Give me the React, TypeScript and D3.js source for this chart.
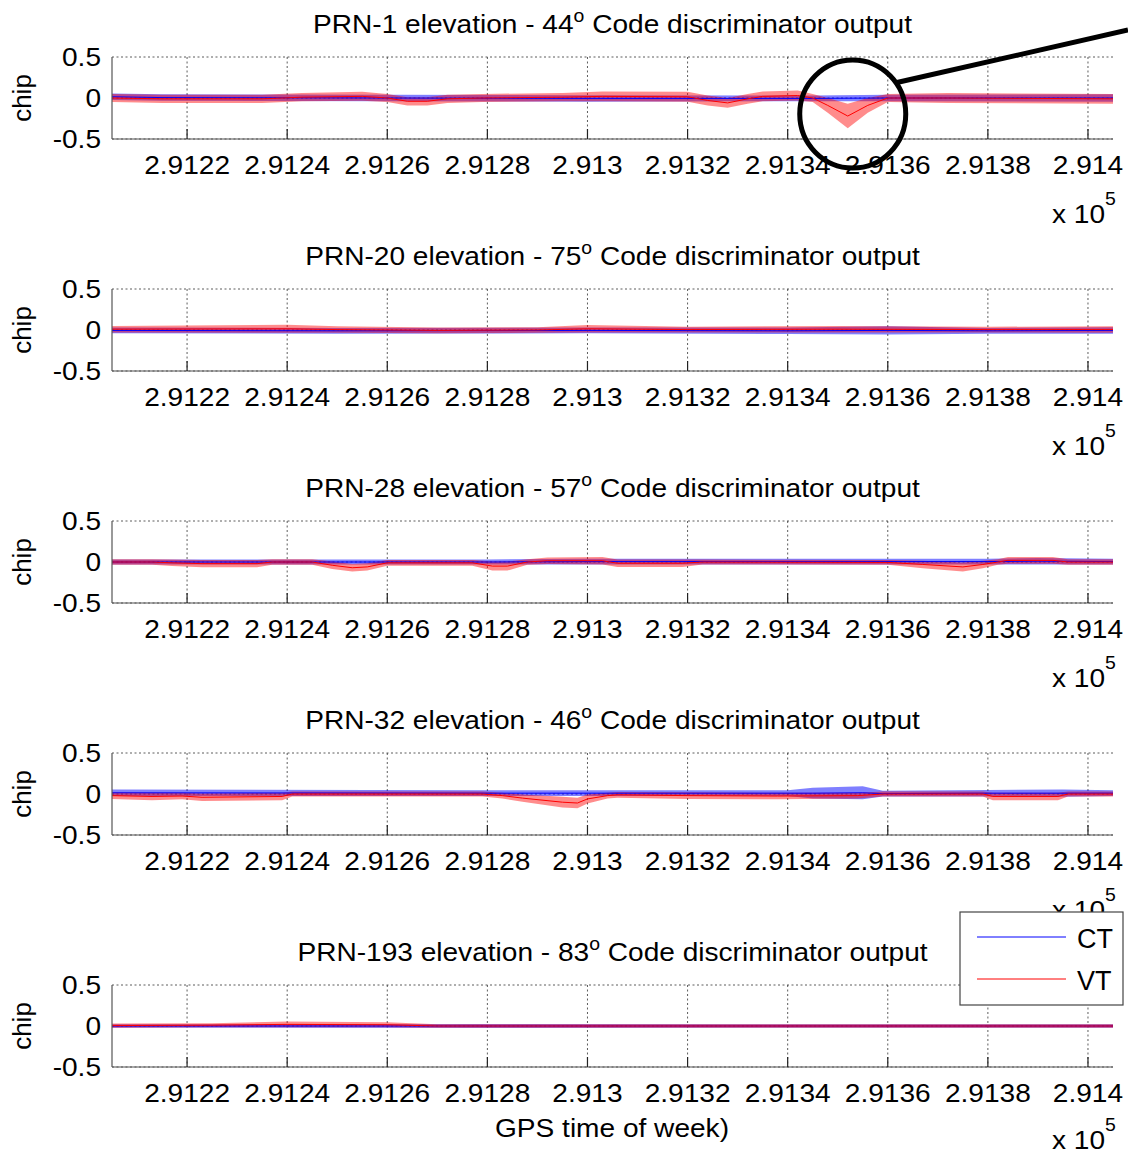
import React from "react";
import * as d3 from "d3";

// panel titles
const prnLabels = ["PRN-1", "PRN-20", "PRN-28", "PRN-32", "PRN-193"];
const elevations = [44, 75, 57, 46, 83];
const seriesNames = ["CT", "VT"];
const seriesColors = ["#0000ff", "#ff0000"];
const xTicks = [291220, 291240, 291260, 291280, 291300, 291320, 291340, 291360, 291380, 291400];
const yTicks = [-0.5, 0, 0.5];

// [GPS time of week (s), mean output (chip), half-spread of the noise (chip)]
type Pt = [number, number, number];

const prn1CT: Pt[] = [
  [291205, 0.015, 0.04], [291215, 0.005, 0.04], [291260, 0.0, 0.04], [291300, -0.005, 0.04],
  [291345, -0.005, 0.035], [291360, 0.0, 0.04], [291405, 0.0, 0.045],
];
const prn1VT: Pt[] = [
  [291205, 0.0, 0.05], [291215, -0.01, 0.05], [291235, -0.01, 0.05], [291243, 0.01, 0.05],
  [291255, 0.02, 0.055], [291260, 0.0, 0.05], [291264, -0.04, 0.05], [291268, -0.04, 0.05],
  [291272, -0.01, 0.05], [291279, 0.0, 0.05], [291295, 0.01, 0.05], [291303, 0.02, 0.06],
  [291320, 0.015, 0.06], [291324, -0.03, 0.06], [291328, -0.06, 0.06], [291332, -0.01, 0.06],
  [291335, 0.02, 0.06], [291342, 0.03, 0.06], [291345, 0.0, 0.05], [291348, -0.09, 0.09],
  [291352, -0.22, 0.15], [291356, -0.09, 0.09], [291360, 0.0, 0.05], [291372, 0.0, 0.06],
  [291405, -0.01, 0.06],
];

const prn20CT: Pt[] = [
  [291205, -0.005, 0.035], [291250, -0.01, 0.035], [291300, -0.005, 0.035], [291340, -0.01, 0.04],
  [291360, -0.005, 0.05], [291380, -0.01, 0.035], [291405, -0.005, 0.04],
];
const prn20VT: Pt[] = [
  [291205, 0.01, 0.04], [291240, 0.015, 0.05], [291250, 0.005, 0.04], [291270, -0.005, 0.035],
  [291290, 0.0, 0.035], [291300, 0.015, 0.045], [291320, 0.005, 0.035], [291350, 0.01, 0.04],
  [291380, 0.005, 0.035], [291405, 0.005, 0.04],
];

const prn28CT: Pt[] = [
  [291205, 0.0, 0.03], [291280, 0.0, 0.03], [291300, 0.005, 0.035], [291380, 0.005, 0.035],
  [291390, 0.01, 0.04], [291405, 0.005, 0.035],
];
const prn28VT: Pt[] = [
  [291205, 0.0, 0.035], [291213, 0.0, 0.035], [291217, -0.01, 0.04], [291223, -0.02, 0.045],
  [291234, -0.02, 0.045], [291237, 0.0, 0.035], [291245, 0.0, 0.035], [291249, -0.04, 0.045],
  [291253, -0.07, 0.045], [291256, -0.06, 0.045], [291260, -0.01, 0.035], [291277, -0.01, 0.035],
  [291281, -0.05, 0.055], [291284, -0.05, 0.055], [291288, 0.0, 0.035], [291292, 0.015, 0.04],
  [291303, 0.015, 0.045], [291306, -0.015, 0.045], [291319, -0.015, 0.045], [291323, 0.0, 0.03],
  [291360, -0.005, 0.03], [291367, -0.03, 0.045], [291375, -0.06, 0.055], [291379, -0.03, 0.045],
  [291382, 0.0, 0.035], [291384, 0.02, 0.04], [291393, 0.02, 0.04], [291396, 0.0, 0.035],
  [291405, 0.0, 0.035],
];

const prn32CT: Pt[] = [
  [291205, 0.015, 0.04], [291280, 0.01, 0.035], [291340, 0.01, 0.035], [291345, 0.01, 0.065],
  [291355, 0.015, 0.08], [291359, 0.005, 0.035], [291380, 0.01, 0.04], [291395, 0.01, 0.045],
  [291405, 0.01, 0.035],
];
const prn32VT: Pt[] = [
  [291205, -0.02, 0.04], [291213, -0.03, 0.045], [291219, -0.025, 0.04], [291223, -0.04, 0.045],
  [291239, -0.03, 0.045], [291241, 0.0, 0.03], [291279, 0.0, 0.03], [291283, -0.02, 0.035],
  [291287, -0.05, 0.045], [291295, -0.1, 0.065], [291298, -0.11, 0.065], [291300, -0.06, 0.055],
  [291304, -0.02, 0.035], [291306, -0.01, 0.035], [291320, -0.02, 0.04], [291338, -0.025, 0.04],
  [291354, -0.02, 0.035], [291359, 0.0, 0.03], [291379, 0.0, 0.03], [291381, -0.03, 0.045],
  [291394, -0.03, 0.045], [291396, 0.0, 0.03], [291405, 0.0, 0.03],
];

const prn193CT: Pt[] = [[291205, 0.0, 0.02], [291280, 0.0, 0.025], [291405, 0.0, 0.02]];
const prn193VT: Pt[] = [
  [291205, 0.005, 0.025], [291225, 0.01, 0.025], [291240, 0.02, 0.035], [291260, 0.015, 0.03],
  [291270, 0.0, 0.02], [291405, 0.0, 0.02],
];

const panelSeries = [
  [prn1CT, prn1VT],
  [prn20CT, prn20VT],
  [prn28CT, prn28VT],
  [prn32CT, prn32VT],
  [prn193CT, prn193VT],
];

const W = 1128, H = 1154;
const left = 112, right = 1113;
const panelH = 82, panelStep = 232, firstTop = 57;
const font = "'Liberation Sans', Arial, Helvetica, sans-serif";
const stretch = "scale(1.08,1)";
const bandOpacity = [0.5, 0.45];

const x = d3.scaleLinear().domain([291205, 291405]).range([left, right]);
const fmtTick = (v: number) => String(+(v / 1e5).toFixed(4));

function Panel({ i }: { i: number }) {
  const top = firstTop + i * panelStep;
  const bottom = top + panelH;
  const y = d3.scaleLinear().domain([-0.5, 0.5]).range([bottom, top]);
  const area = d3.area<Pt>().x(d => x(d[0])).y0(d => y(d[1] - d[2])).y1(d => y(d[1] + d[2]));
  const line = d3.line<Pt>().x(d => x(d[0])).y(d => y(d[1]));
  const midX = (left + right) / 2;
  return (
    <g>
      {/* grid */}
      {xTicks.map(t => (
        <line key={"gx" + t} x1={x(t)} x2={x(t)} y1={top} y2={bottom} stroke="#333" strokeWidth={0.8} strokeDasharray="2,2.5" />
      ))}
      {yTicks.map(t => (
        <line key={"gy" + t} x1={left} x2={right} y1={y(t)} y2={y(t)} stroke="#333" strokeWidth={0.8} strokeDasharray="2,2.5" />
      ))}
      {/* data: noise bands, then mean lines (VT on top) */}
      {panelSeries[i].map((s, k) => (
        <path key={"a" + k} d={area(s) || ""} fill={seriesColors[k]} opacity={bandOpacity[k]} />
      ))}
      {panelSeries[i].map((s, k) => (
        <path key={"l" + k} d={line(s) || ""} fill="none" stroke={seriesColors[k]} strokeWidth={1} />
      ))}
      {/* axes */}
      <line x1={left} x2={right} y1={bottom} y2={bottom} stroke="#555" strokeWidth={1.2} />
      <line x1={left} x2={left} y1={top} y2={bottom} stroke="#555" strokeWidth={1.2} />
      {xTicks.map(t => (
        <line key={"tx" + t} x1={x(t)} x2={x(t)} y1={bottom} y2={bottom - 10} stroke="#222" strokeWidth={1.2} />
      ))}
      {xTicks.map(t => (
        <text key={"lx" + t} transform={`translate(${x(t)},${bottom + 35}) ${stretch}`} textAnchor="middle" fontSize={26}>
          {fmtTick(t)}
        </text>
      ))}
      {yTicks.map(t => (
        <text key={"ly" + t} transform={`translate(101,${y(t) + 9}) ${stretch}`} textAnchor="end" fontSize={26}>
          {t}
        </text>
      ))}
      <text transform={`translate(31,${(top + bottom) / 2}) rotate(-90)`} textAnchor="middle" fontSize={26}>
        chip
      </text>
      <text transform={`translate(${midX},${top - 24}) ${stretch}`} textAnchor="middle" fontSize={26} style={{ whiteSpace: "pre" }}>
        {`${prnLabels[i]} elevation - ${elevations[i]}`}
        <tspan fontSize={18} dy={-11}>o</tspan>
        <tspan dy={11}>{" Code discriminator output"}</tspan>
      </text>
      <text transform={`translate(1052,${Math.min(bottom + 84, H - 5)}) ${stretch}`} fontSize={26}>
        x 10<tspan fontSize={18} dy={-18}>5</tspan>
      </text>
    </g>
  );
}

export default function App() {
  // circled region of the PRN-1 VT dip
  const cx = x(291353);
  const cy = 57 + 41 + 16;
  return (
    <svg width={W} height={H} style={{ position: "absolute", left: 0, top: 0, background: "#fff" }} fontFamily={font}>
      <rect width={W} height={H} fill="#fff" />
      {prnLabels.map((_, i) => (
        <Panel key={i} i={i} />
      ))}
      <text transform={`translate(612,1137) ${stretch}`} textAnchor="middle" fontSize={26}>
        GPS time of week)
      </text>
      {/* annotation */}
      <ellipse cx={cx} cy={cy} rx={53} ry={54} fill="none" stroke="#000" strokeWidth={5} />
      <line x1={cx + 42} x2={W} y1={cy - 31} y2={cy - 84} stroke="#000" strokeWidth={5} />
      {/* legend */}
      <g>
        <rect x={960} y={912} width={163} height={93} fill="#fff" stroke="#444" strokeWidth={1.2} />
        {seriesNames.map((n, k) => (
          <g key={n}>
            <line x1={977} x2={1066} y1={937 + k * 42} y2={937 + k * 42} stroke={seriesColors[k]} strokeWidth={1} />
            <text x={1077} y={948 + k * 42} fontSize={27}>
              {n}
            </text>
          </g>
        ))}
      </g>
    </svg>
  );
}
